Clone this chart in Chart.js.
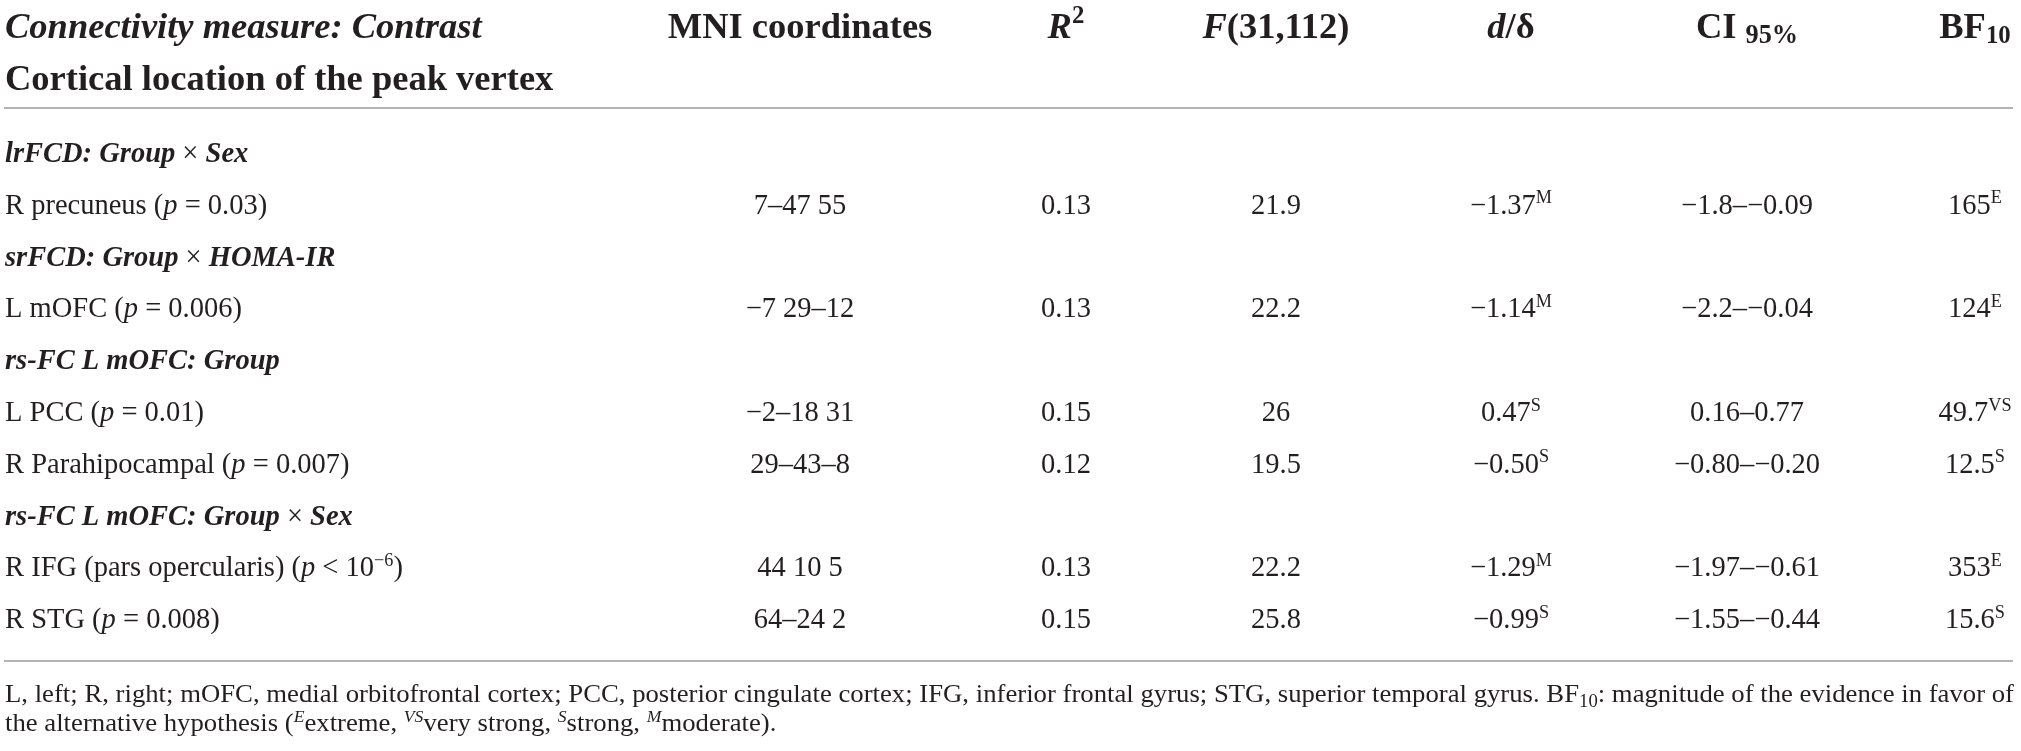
<!DOCTYPE html>
<html>
<head>
<meta charset="utf-8">
<script src="https://cdn.jsdelivr.net/npm/chart.js@4/dist/chart.umd.min.js"></script>
<style>
  html, body { margin: 0; padding: 0; background: #ffffff; }
  #wrap { width: 2021px; height: 751px; }
</style>
</head>
<body>
<div id="wrap"><canvas id="c" width="2021" height="751"></canvas></div>
<script>
// ---------------- DATA ----------------
const groupTitles = ["lrFCD: Group × Sex", "srFCD: Group × HOMA-IR", "rs-FC L mOFC: Group", "rs-FC L mOFC: Group × Sex"];
const regions = ["R precuneus", "L mOFC", "L PCC", "R Parahipocampal", "R IFG (pars opercularis)", "R STG"];
const regionGroup = [0, 1, 2, 2, 3, 3];
const pRelation = ["=", "=", "=", "=", "<", "="];
const pValue = ["0.03", "0.006", "0.01", "0.007", "10", "0.008"];
const pExponent = ["", "", "", "", "−6", ""];
const mniCoords = ["7–47 55", "−7 29–12", "−2–18 31", "29–43–8", "44 10 5", "64–24 2"];
const rSquared = ["0.13", "0.13", "0.15", "0.12", "0.13", "0.15"];
const fValues = ["21.9", "22.2", "26", "19.5", "22.2", "25.8"];
const effectSize = ["−1.37", "−1.14", "0.47", "−0.50", "−1.29", "−0.99"];
const effectGrade = ["M", "M", "S", "S", "M", "S"];
const ciLow = ["−1.8", "−2.2", "0.16", "−0.80", "−1.97", "−1.55"];
const ciHigh = ["−0.09", "−0.04", "0.77", "−0.20", "−0.61", "−0.44"];
const bf10 = ["165", "124", "49.7", "12.5", "353", "15.6"];
const bfGrade = ["E", "E", "VS", "S", "E", "S"];
const headerLine1 = "Connectivity measure: Contrast";
const headerLine2 = "Cortical location of the peak vertex";
const footLine1a = "L, left; R, right; mOFC, medial orbitofrontal cortex; PCC, posterior cingulate cortex; IFG, inferior frontal gyrus; STG, superior temporal gyrus. BF";
const footLine1b = ": magnitude of the evidence in favor of";
const footGrades = [["E", "extreme, "], ["VS", "very strong, "], ["S", "strong, "], ["M", "moderate)."]];

// ---------------- BUILD ROWS ----------------
const rows = [];
groupTitles.forEach((g, gi) => {
  rows.push({ type: "group", gi });
  regions.forEach((r, ri) => { if (regionGroup[ri] === gi) rows.push({ type: "region", ri }); });
});
const rowKeys = rows.map((r, i) => "row" + i);

// ---------------- LAYOUT / STYLE ----------------
const FONT = '"Liberation Serif", "Times New Roman", serif';
const INK = "#231f20";
const RULE = "#b4b4b4";
const BODY = 28.5;
const HEAD = 36.5;
const FOOT = 26;
const colCenter = { mni: 800, r2: 1066, f: 1276, d: 1511, ci: 1747, bf: 1975 };
const leftX = 5;

function fontOf(s, size) {
  return (s.i ? "italic " : "") + (s.b ? "bold " : "") + size + "px " + FONT;
}
function segSize(s, base) { return (s.sup || s.sub) ? base * (s.scale || 0.64) : base; }
function measureRich(ctx, segs, base) {
  let w = 0;
  segs.forEach(s => { ctx.font = fontOf(s, segSize(s, base)); w += ctx.measureText(s.t).width; });
  return w;
}
function drawRich(ctx, segs, x, y, align, base, sx) {
  sx = sx || 1;
  const w = measureRich(ctx, segs, base) * sx;
  let cx = align === "center" ? x - w / 2 : (align === "right" ? x - w : x);
  ctx.save();
  ctx.translate(cx, y);
  ctx.scale(sx, 1);
  let px = 0;
  segs.forEach(s => {
    const sz = segSize(s, base);
    ctx.font = fontOf(s, sz);
    ctx.fillStyle = INK;
    ctx.textBaseline = "alphabetic";
    ctx.textAlign = "left";
    let dy = 0;
    if (s.sup) dy = -base * (s.rise || 0.36);
    if (s.sub) dy = base * (s.drop || 0.2);
    ctx.fillText(s.t, px, dy);
    px += ctx.measureText(s.t).width;
  });
  ctx.restore();
}

function groupSegs(title) {
  const parts = title.split(" × ");
  const segs = [{ t: parts[0], b: true, i: true }];
  for (let k = 1; k < parts.length; k++) {
    segs.push({ t: " × " });
    segs.push({ t: parts[k], b: true, i: true });
  }
  return segs;
}
function regionSegs(ri) {
  const segs = [{ t: regions[ri] + " (" }, { t: "p", i: true }, { t: " " + pRelation[ri] + " " + pValue[ri] }];
  if (pExponent[ri]) segs.push({ t: pExponent[ri], sup: true });
  segs.push({ t: ")" });
  return segs;
}

const tablePlugin = {
  id: "tableText",
  beforeDraw(chart) {
    const ctx = chart.ctx;
    ctx.save();
    ctx.fillStyle = "#ffffff";
    ctx.fillRect(0, 0, chart.width, chart.height);
    ctx.restore();
  },
  afterDraw(chart) {
    const ctx = chart.ctx;
    const xs = chart.scales.x, ys = chart.scales.y;
    const X = v => xs.getPixelForValue(v);
    const area = chart.chartArea;

    // header
    const hb1 = 38, hb2 = 90;
    drawRich(ctx, [{ t: headerLine1, b: true, i: true }], X(leftX), hb1, "left", HEAD);
    drawRich(ctx, [{ t: headerLine2, b: true }], X(leftX), hb2, "left", HEAD);
    drawRich(ctx, [{ t: "MNI coordinates", b: true }], X(colCenter.mni), hb1, "center", HEAD);
    drawRich(ctx, [{ t: "R", b: true, i: true }, { t: "2", b: true, sup: true, scale: 0.68, rise: 0.4 }], X(colCenter.r2), hb1, "center", HEAD);
    drawRich(ctx, [{ t: "F", b: true, i: true }, { t: "(31,112)", b: true }], X(colCenter.f), hb1, "center", HEAD);
    drawRich(ctx, [{ t: "d", b: true, i: true }, { t: "/δ", b: true }], X(colCenter.d), hb1, "center", HEAD);
    drawRich(ctx, [{ t: "CI ", b: true }, { t: "95%", b: true, sub: true, scale: 0.72, drop: 0.14 }], X(colCenter.ci), hb1, "center", HEAD);
    drawRich(ctx, [{ t: "BF", b: true }, { t: "10", b: true, sub: true, scale: 0.68, drop: 0.14 }], X(colCenter.bf), hb1, "center", HEAD);

    // rules
    ctx.save();
    ctx.strokeStyle = RULE;
    ctx.lineWidth = 2;
    ctx.beginPath();
    ctx.moveTo(X(4), area.top - 20); ctx.lineTo(X(2013), area.top - 20);
    ctx.moveTo(X(4), area.bottom + 15); ctx.lineTo(X(2013), area.bottom + 15);
    ctx.stroke();
    ctx.restore();

    // body rows
    rows.forEach((r, i) => {
      const y = ys.getPixelForValue(i) + 8;
      if (r.type === "group") {
        drawRich(ctx, groupSegs(groupTitles[r.gi]), X(leftX), y, "left", BODY);
      } else {
        const k = r.ri;
        drawRich(ctx, regionSegs(k), X(leftX), y, "left", BODY);
        drawRich(ctx, [{ t: mniCoords[k] }], X(colCenter.mni), y, "center", BODY);
        drawRich(ctx, [{ t: rSquared[k] }], X(colCenter.r2), y, "center", BODY);
        drawRich(ctx, [{ t: fValues[k] }], X(colCenter.f), y, "center", BODY);
        drawRich(ctx, [{ t: effectSize[k] }, { t: effectGrade[k], sup: true }], X(colCenter.d), y, "center", BODY);
        drawRich(ctx, [{ t: ciLow[k] + "–" + ciHigh[k] }], X(colCenter.ci), y, "center", BODY);
        drawRich(ctx, [{ t: bf10[k] }, { t: bfGrade[k], sup: true }], X(colCenter.bf), y, "center", BODY);
      }
    });

    // footnote
    const f1 = [{ t: footLine1a }, { t: "10", sub: true, scale: 0.7, drop: 0.18 }, { t: footLine1b }];
    const f2 = [{ t: "the alternative hypothesis (" }];
    footGrades.forEach(g => { f2.push({ t: g[0], i: true, sup: true, scale: 0.66 }); f2.push({ t: g[1] }); });
    const w1 = measureRich(ctx, f1, FOOT);
    const sx = (X(2014) - X(leftX)) / w1;
    drawRich(ctx, f1, X(leftX), area.bottom + 56, "left", FOOT, sx);
    drawRich(ctx, f2, X(leftX), area.bottom + 85, "left", FOOT, sx);
  }
};

const chart = new Chart(document.getElementById("c"), {
  type: "scatter",
  data: {
    labels: rowKeys,
    datasets: [{
      data: rows.map((r, i) => ({ x: leftX, y: rowKeys[i] })),
      pointRadius: 0,
      pointHoverRadius: 0,
      showLine: false
    }]
  },
  options: {
    responsive: false,
    animation: false,
    devicePixelRatio: 1,
    layout: { padding: { top: 128, bottom: 105, left: 0, right: 0 } },
    plugins: { legend: { display: false }, tooltip: { enabled: false }, title: { display: false } },
    events: [],
    scales: {
      x: { type: "linear", min: 0, max: 2021, display: false },
      y: { type: "category", labels: rowKeys, offset: true, display: false }
    }
  },
  plugins: [tablePlugin]
});
</script>
</body>
</html>
